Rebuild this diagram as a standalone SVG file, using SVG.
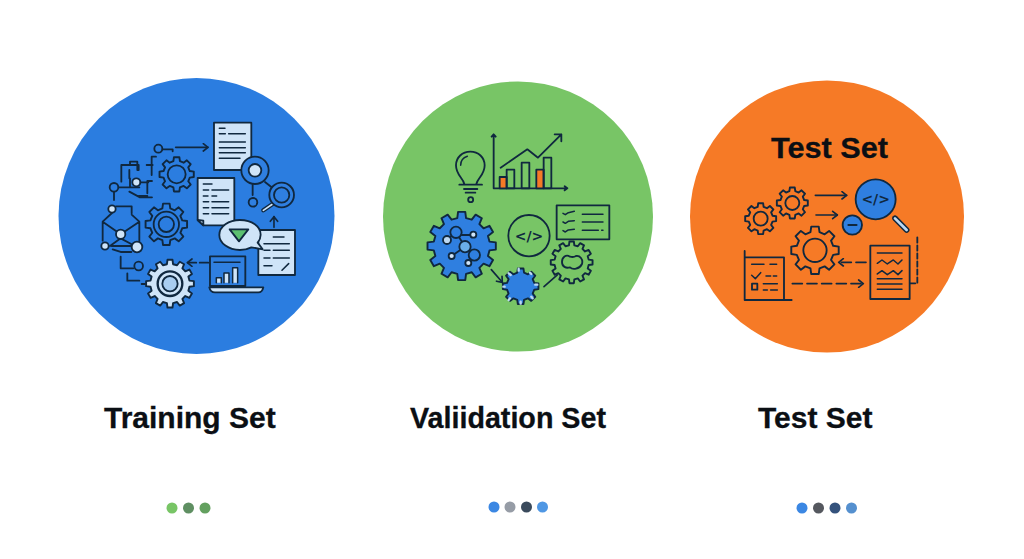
<svg xmlns="http://www.w3.org/2000/svg" width="1024" height="559" viewBox="0 0 1024 559">
<style>
.i{fill:none;stroke:#10283f;stroke-width:5.500;stroke-linecap:round;stroke-linejoin:round}
.i use{stroke-width:1.900}
.t{stroke-width:4.500}
.l{fill:#cfe4f8}
.b{fill:#2f7fe0}
.a{fill:none;stroke:#10283f;stroke-width:5;stroke-linecap:round;stroke-linejoin:round;marker-end:url(#h)}
.d{stroke-dasharray:30 14}
.lab{font-family:"Liberation Sans",Arial,sans-serif;font-weight:700;font-size:30px;fill:#0b0f14;stroke:#0b0f14;stroke-width:.3}
.code{font-family:"DejaVu Sans",sans-serif;font-weight:700;font-size:42px;fill:#10283f;text-anchor:middle}
</style>
<defs>
<marker id="h" markerUnits="userSpaceOnUse" markerWidth="24" markerHeight="28" refX="20" refY="14" orient="auto"><path d="M6 3L20 14L6 25" fill="none" stroke="#10283f" stroke-width="5" stroke-linecap="round" stroke-linejoin="round"/></marker>
<path id="g8" vector-effect="non-scaling-stroke" d="M75.700-18.900L98.800-15.600L98.800 15.600L75.700 18.900L66.900 40.200L80.900 58.800L58.800 80.900L40.200 66.900L18.900 75.700L15.600 98.800L-15.600 98.800L-18.900 75.700L-40.200 66.900L-58.800 80.900L-80.900 58.800L-66.900 40.200L-75.700 18.900L-98.800 15.600L-98.800-15.600L-75.700-18.900L-66.900-40.200L-80.900-58.800L-58.800-80.900L-40.200-66.900L-18.900-75.700L-15.600-98.800L15.600-98.800L18.900-75.700L40.200-66.900L58.800-80.900L80.900-58.800L66.900-40.200Z"/>
<path id="g12" vector-effect="non-scaling-stroke" d="M81-12.800L99.500-10.500L99.500 10.500L81 12.800L76.600 29.400L91.400 40.700L80.900 58.800L63.700 51.600L51.600 63.700L58.800 80.900L40.700 91.400L29.400 76.600L12.800 81L10.500 99.500L-10.500 99.500L-12.800 81L-29.400 76.600L-40.700 91.400L-58.800 80.900L-51.600 63.700L-63.700 51.600L-80.900 58.800L-91.400 40.700L-76.600 29.400L-81 12.800L-99.500 10.500L-99.500-10.500L-81-12.800L-76.600-29.400L-91.400-40.700L-80.900-58.800L-63.700-51.600L-51.600-63.700L-58.800-80.900L-40.700-91.400L-29.400-76.600L-12.800-81L-10.500-99.500L10.500-99.500L12.800-81L29.400-76.600L40.700-91.400L58.800-80.900L51.600-63.700L63.700-51.600L80.900-58.800L91.400-40.700L76.600-29.400Z"/>
</defs>
<rect width="1024" height="559" fill="#fff"/>

<g id="node-training">
<circle cx="196.500" cy="216" r="138" fill="#2b7de0"/>
<g transform="translate(90 110) scale(.3333)">
<g class="i">
<rect class="l" x="372" y="38" width="112" height="142"/>
<path class="t" d="M388 55H405M388 71H406M416 71H466M388 96H466M388 113H466M388 128H466M388 145H450"/>
<circle class="b" cx="495" cy="181" r="41"/><circle class="l" cx="495" cy="181" r="19"/>
<path d="M488 224V255M525 216L545 232"/>
<circle class="b" cx="489" cy="277" r="13"/>
<path d="M548 282L520 301" style="stroke-width:13"/><path d="M548 282L520 301" style="stroke:#cfe4f8;stroke-width:5"/>
<circle class="b" cx="575" cy="255" r="37"/><circle class="b" cx="575" cy="255" r="23"/>
<path class="l" d="M323 204H433V346H340L323 330Z"/><path class="l" d="M323 330L340 332V346Z"/>
<path class="t" d="M340 222H366M340 240H356M366 240H416M340 258H354M366 258H380M340 275H356M366 275H416M340 293H356M366 293H416M340 311H356M366 311H416"/>
<rect class="l" x="505" y="360" width="110" height="135"/>
<path class="t" d="M550 381H582M522 401H598M522 421H540M550 421H598M522 444H540M550 444H598M522 467H546M576 481L596 461"/>
<path class="l" d="M450 330C486 330 512 350 512 374C512 384 508 392 503 398L518 418L484 412C474 417 462 420 450 420C416 420 388 400 388 375C388 350 416 330 450 330Z"/>
<path d="M419 358H475L447 394Z" style="fill:#5cc070"/>
<path class="b" d="M360 439H466V528H360Z"/>
<path class="t" d="M372 457H450"/>
<path class="l t" d="M379 518V503H394V518M402 518V489H417V518M428 518V473H443V518"/>
<path class="l" d="M358 532H520C518 542 512 547 505 547H375C366 547 360 542 358 532Z"/>
<use href="#g8" transform="translate(260 193) scale(.52)"/>
<circle cx="260" cy="193" r="27"/>
<use href="#g8" transform="translate(229 343) scale(.63)"/>
<circle cx="229" cy="343" r="38"/><circle cx="229" cy="343" r="23"/>
<use class="l" href="#g12" transform="translate(240 521) scale(.72)"/>
<circle cx="240" cy="521" r="37" style="stroke-width:7"/><circle cx="240" cy="521" r="23" style="fill:#a9cdf0"/>
<circle cx="205" cy="116" r="12"/><path d="M218 118H248V124"/>
<path d="M198 140H185V195M188 165H170M186 213H172V250M172 258H146M146 180V165M146 165H120V155H142V180M94 165H120M94 165V215M118 180V205M118 245L150 262H186M120 205V232H148"/>
<circle class="l" cx="139" cy="217" r="12"/><path d="M152 217H175"/>
<circle cx="72" cy="232" r="13"/><path d="M86 232H118M72 246V270"/>
<circle class="l" cx="66" cy="297" r="11"/>
<path d="M38 335L66 309M78 289H125V310M38 335V392M38 335L92 373L148 335V395M148 335L125 314M65 408H125M60 408L92 385L125 403M68 418L92 426H124"/>
<circle class="l" cx="92" cy="373" r="14"/><circle class="l" cx="45" cy="408" r="11"/><circle class="l" cx="141" cy="411" r="16"/>
<path d="M92 440V475H130"/><circle cx="146" cy="468" r="13"/>
<path d="M112 490V512H148M155 522H165"/>
</g>
</g>
<text class="lab" x="104" y="428">Training Set</text>
<circle cx="172" cy="508" r="5.500" fill="#78c566"/><circle cx="188.500" cy="508" r="5.500" fill="#5f8f62"/><circle cx="205" cy="508" r="5.500" fill="#63a05f"/>
</g>

<g id="node-validation">
<circle cx="518" cy="216.500" r="135" fill="#78c566"/>
<g transform="translate(420 120) scale(.3333)">
<g class="i">
<path d="M133 192C128 172 108 165 108 136C108 112 127 95 151 95C175 95 194 112 194 136C194 165 174 172 169 192M118 194H186M132 207H172M137 218H166"/>
<path d="M122 136C122 124 130 113 142 109" class="t"/>
<circle cx="152" cy="239" r="7.500"/>
<path d="M221 43V205H440M215 50L221 43L227 50M434 199L442 205L434 211"/>
<rect x="239" y="171" width="21" height="34" style="fill:#f67a26"/>
<rect x="260" y="149" width="23" height="56"/><rect x="305" y="128" width="23" height="77"/>
<rect x="349" y="149" width="22" height="56" style="fill:#f67a26"/><rect x="371" y="113" width="23" height="92"/>
<path d="M242 143L322 88L354 113L424 43M404 43H424V64"/>
<use class="b" href="#g12" transform="translate(125 378) scale(1.03)"/>
<path d="M108 337L135 380L163 405M80 360L108 337M125 345H160M135 380L95 408M145 428L163 405"/>
<circle class="b" cx="108" cy="337" r="17"/><circle cx="81" cy="360" r="12" style="fill:#bcd8f2"/><circle class="l" cx="160" cy="344" r="9"/>
<circle cx="135" cy="380" r="17" style="fill:#6aaee8"/><circle class="b" cx="163" cy="405" r="17"/><circle class="l" cx="95" cy="408" r="9"/><circle class="l" cx="145" cy="429" r="9"/>
<circle cx="327" cy="347" r="62"/>
<rect x="410" y="256" width="158" height="102"/>
<path class="t" d="M429 280L436 284L445 278L463 274M429 306L436 310L445 304L463 302M429 332L436 336L445 330L463 328M487 283H549M487 306H549M487 331H535M545 331H549"/>
<use href="#g12" transform="translate(455 427) scale(.63)"/>
<path d="M450 410C438 402 426 412 426 426C426 440 438 446 450 442C458 450 478 448 486 432C490 418 480 406 468 408C462 412 458 412 450 410Z"/>
<use class="b" href="#g8" transform="translate(302 499) scale(.54)"/>
<path d="M296 452V446M334 462L330 458M346 494H352M334 530L338 535M302 545V551M270 535L266 540M254 500H250M272 465L266 460" style="stroke:#bcd8f2;stroke-width:7"/>
</g>
<text class="code" x="327" y="362">&lt;/&gt;</text>
</g>
<text class="lab" x="410" y="428" textLength="196" lengthAdjust="spacingAndGlyphs">Valiidation Set</text>
<circle cx="494" cy="507" r="5.500" fill="#3b87e3"/><circle cx="510" cy="507" r="5.500" fill="#969ca6"/><circle cx="526.500" cy="507" r="5.500" fill="#3a4a5c"/><circle cx="542.500" cy="507" r="5.500" fill="#4f97e4"/>
</g>

<g id="node-test">
<ellipse cx="827" cy="216.500" rx="137" ry="136" fill="#f67a26"/>
<text class="lab" x="771" y="158" textLength="117" lengthAdjust="spacingAndGlyphs">Test Set</text>
<g transform="translate(730 120) scale(.3333)">
<g class="i">
<use href="#g8" transform="translate(92 296) scale(.47)"/><circle cx="92" cy="296" r="21"/>
<use href="#g8" transform="translate(187 249) scale(.47)"/><circle cx="187" cy="249" r="21"/>
<use href="#g8" transform="translate(255 391) scale(.72)"/><circle cx="255" cy="391" r="35"/>
<path d="M495 295L530 330" style="stroke-width:17"/><path d="M495 295L530 330" style="stroke:#bcd8f2;stroke-width:8"/>
<circle class="b" cx="437" cy="238" r="60"/>
<circle class="b" cx="367" cy="315" r="29"/><path d="M355 315H380"/>
<path d="M44 393V540H185M44 412H162V540"/>
<path class="t" d="M65 433H102M120 433H140M65 466L76 476L92 458M108 468H122M130 468H140"/>
<rect x="66" y="491" width="16" height="18"/>
<path class="t" d="M100 491H142M100 510H112M122 510H142"/>
<rect x="421" y="377" width="118" height="160"/>
<path class="t" d="M442 399H516M442 430L456 420L472 432L490 420L504 432L516 420M442 462L456 452L472 464L490 452L504 464L516 452M442 476H516M442 492H516M442 508H516"/>
<path d="M562 352V490H541" style="stroke-dasharray:16 8"/>
</g>
<text class="code" x="437" y="253">&lt;/&gt;</text>
</g>
<text class="lab" x="758" y="428">Test Set</text>
<circle cx="802" cy="508" r="5.500" fill="#3b87e3"/><circle cx="818.500" cy="508" r="5.500" fill="#55585f"/><circle cx="835" cy="508" r="5.500" fill="#34527c"/><circle cx="851.500" cy="508" r="5.500" fill="#5590cf"/>
</g>

<g id="connectors">
<g transform="translate(90 110) scale(.3333)">
<path class="a" d="M257 112H354"/>
<path class="a" d="M552 352V320"/>
<path class="a" d="M355 458H292" style="stroke-dasharray:26 10"/>
</g>
<g transform="translate(420 120) scale(.3333)">
<path class="a" d="M214 449L247 487"/>
<path class="a" d="M372 500L412 465" style="marker-end:none"/>
</g>
<g transform="translate(730 120) scale(.3333)">
<path class="a" d="M256 226H350"/>
<path class="a" d="M258 285H322"/>
<path class="a d" d="M408 427H326"/>
<path class="a d" d="M187 491H400"/>
</g>
</g>
</svg>
